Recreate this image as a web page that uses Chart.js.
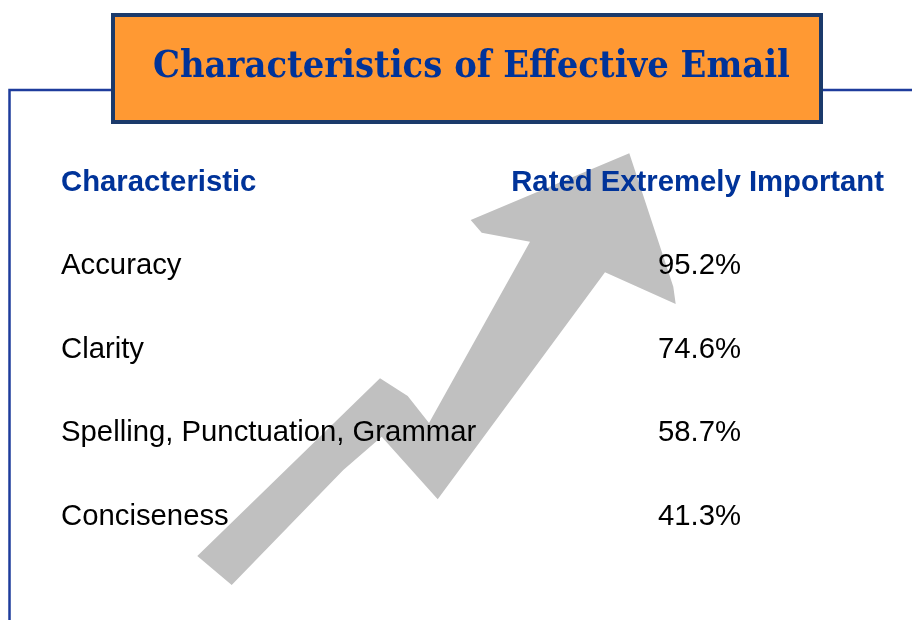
<!DOCTYPE html>
<html>
<head>
<meta charset="utf-8">
<script src="https://cdn.jsdelivr.net/npm/chart.js@4.4.1/dist/chart.umd.min.js"></script>
<style>
  html, body { margin: 0; padding: 0; background: #ffffff; }
  #wrap { width: 912px; height: 620px; }
</style>
</head>
<body>
<div id="wrap"><canvas id="c" width="912" height="620"></canvas></div>
<script>
// ---- data ----
const chartTitle = 'Characteristics of Effective Email';
const columnHeaders = ['Characteristic', 'Rated Extremely Important'];
const categories = ['Accuracy', 'Clarity', 'Spelling, Punctuation, Grammar', 'Conciseness'];
const ratedExtremelyImportant = [95.2, 74.6, 58.7, 41.3];

// ---- styles ----
const BLUE = '#003399';
const LINE_BLUE = '#1E3C9C';
const NAVY = '#1B3A6B';
const ORANGE = '#FF9933';
const GREY = '#C0C0C0';
const SANS = '"Liberation Sans", Arial, sans-serif';
const SERIF = '"DejaVu Serif", serif';
const FS = 29.3;

// decorative arrow outline, as fractions of the canvas
const arrowShape = [
  [629.3,153.3],[673.3,286.7],[675.7,304],[605,272.3],[437.7,499.3],[381.7,436.7],
  [343.3,470],[231.7,585],[197.3,556],[380,378.3],[407.7,396],[429,423],
  [530,241.7],[481.7,232.7],[470.7,220]
].map(p => [p[0] / 912, p[1] / 620]);

const framePlugin = {
  id: 'frame',
  beforeDraw(chart) {
    const ctx = chart.ctx, W = chart.width, H = chart.height;
    ctx.save();
    ctx.fillStyle = '#ffffff';
    ctx.fillRect(0, 0, W, H);
    // blue frame lines
    ctx.strokeStyle = LINE_BLUE;
    ctx.lineWidth = 2.5;
    ctx.beginPath();
    ctx.moveTo(9.5, H);
    ctx.lineTo(9.5, 90);
    ctx.lineTo(W, 90);
    ctx.stroke();
    // arrow
    ctx.fillStyle = GREY;
    ctx.beginPath();
    arrowShape.forEach((p, i) => {
      const x = p[0] * W, y = p[1] * H;
      if (i === 0) ctx.moveTo(x, y); else ctx.lineTo(x, y);
    });
    ctx.closePath();
    ctx.fill();
    // title box
    ctx.fillStyle = ORANGE;
    ctx.fillRect(113, 15, 708, 107);
    ctx.strokeStyle = NAVY;
    ctx.lineWidth = 4;
    ctx.strokeRect(113, 15, 708, 107);
    // title text, condensed to fit the box width
    ctx.font = 'bold 38px ' + SERIF;
    const w = ctx.measureText(chartTitle).width;
    const sx = 637 / w;
    ctx.fillStyle = BLUE;
    ctx.textAlign = 'center';
    ctx.textBaseline = 'alphabetic';
    ctx.translate(471.5, 77);
    ctx.scale(sx, 1);
    ctx.fillText(chartTitle, 0, 0);
    ctx.restore();
  },
  afterDraw(chart) {
    const ctx = chart.ctx;
    const yScale = chart.scales.y;
    ctx.save();
    // column headers
    ctx.font = 'bold ' + FS + 'px ' + SANS;
    ctx.fillStyle = BLUE;
    ctx.textBaseline = 'alphabetic';
    ctx.textAlign = 'left';
    ctx.fillText(columnHeaders[0], yScale.left, 191);
    ctx.textAlign = 'right';
    ctx.fillText(columnHeaders[1], 884, 191);
    // values
    ctx.font = FS + 'px ' + SANS;
    ctx.fillStyle = '#000000';
    ctx.textAlign = 'left';
    ctx.textBaseline = 'middle';
    const meta = chart.getDatasetMeta(0);
    meta.data.forEach((el, i) => {
      ctx.fillText(ratedExtremelyImportant[i].toFixed(1) + '%', 658, el.y);
    });
    ctx.restore();
  }
};

new Chart(document.getElementById('c'), {
  type: 'bar',
  data: {
    labels: categories,
    datasets: [{
      label: columnHeaders[1],
      data: ratedExtremelyImportant,
      backgroundColor: 'rgba(0,0,0,0)',
      borderWidth: 0
    }]
  },
  options: {
    indexAxis: 'y',
    responsive: false,
    animation: false,
    devicePixelRatio: 1,
    layout: { padding: { left: 61, right: 20, top: 224, bottom: 61 } },
    plugins: {
      legend: { display: false },
      tooltip: { enabled: false },
      title: { display: false }
    },
    scales: {
      x: { display: false, min: 0, max: 100 },
      y: {
        type: 'category',
        position: 'left',
        grid: { display: false, drawTicks: false },
        border: { display: false },
        ticks: {
          crossAlign: 'far',
          padding: 0,
          color: '#000000',
          font: { family: SANS, size: FS }
        }
      }
    }
  },
  plugins: [framePlugin]
});
</script>
</body>
</html>
